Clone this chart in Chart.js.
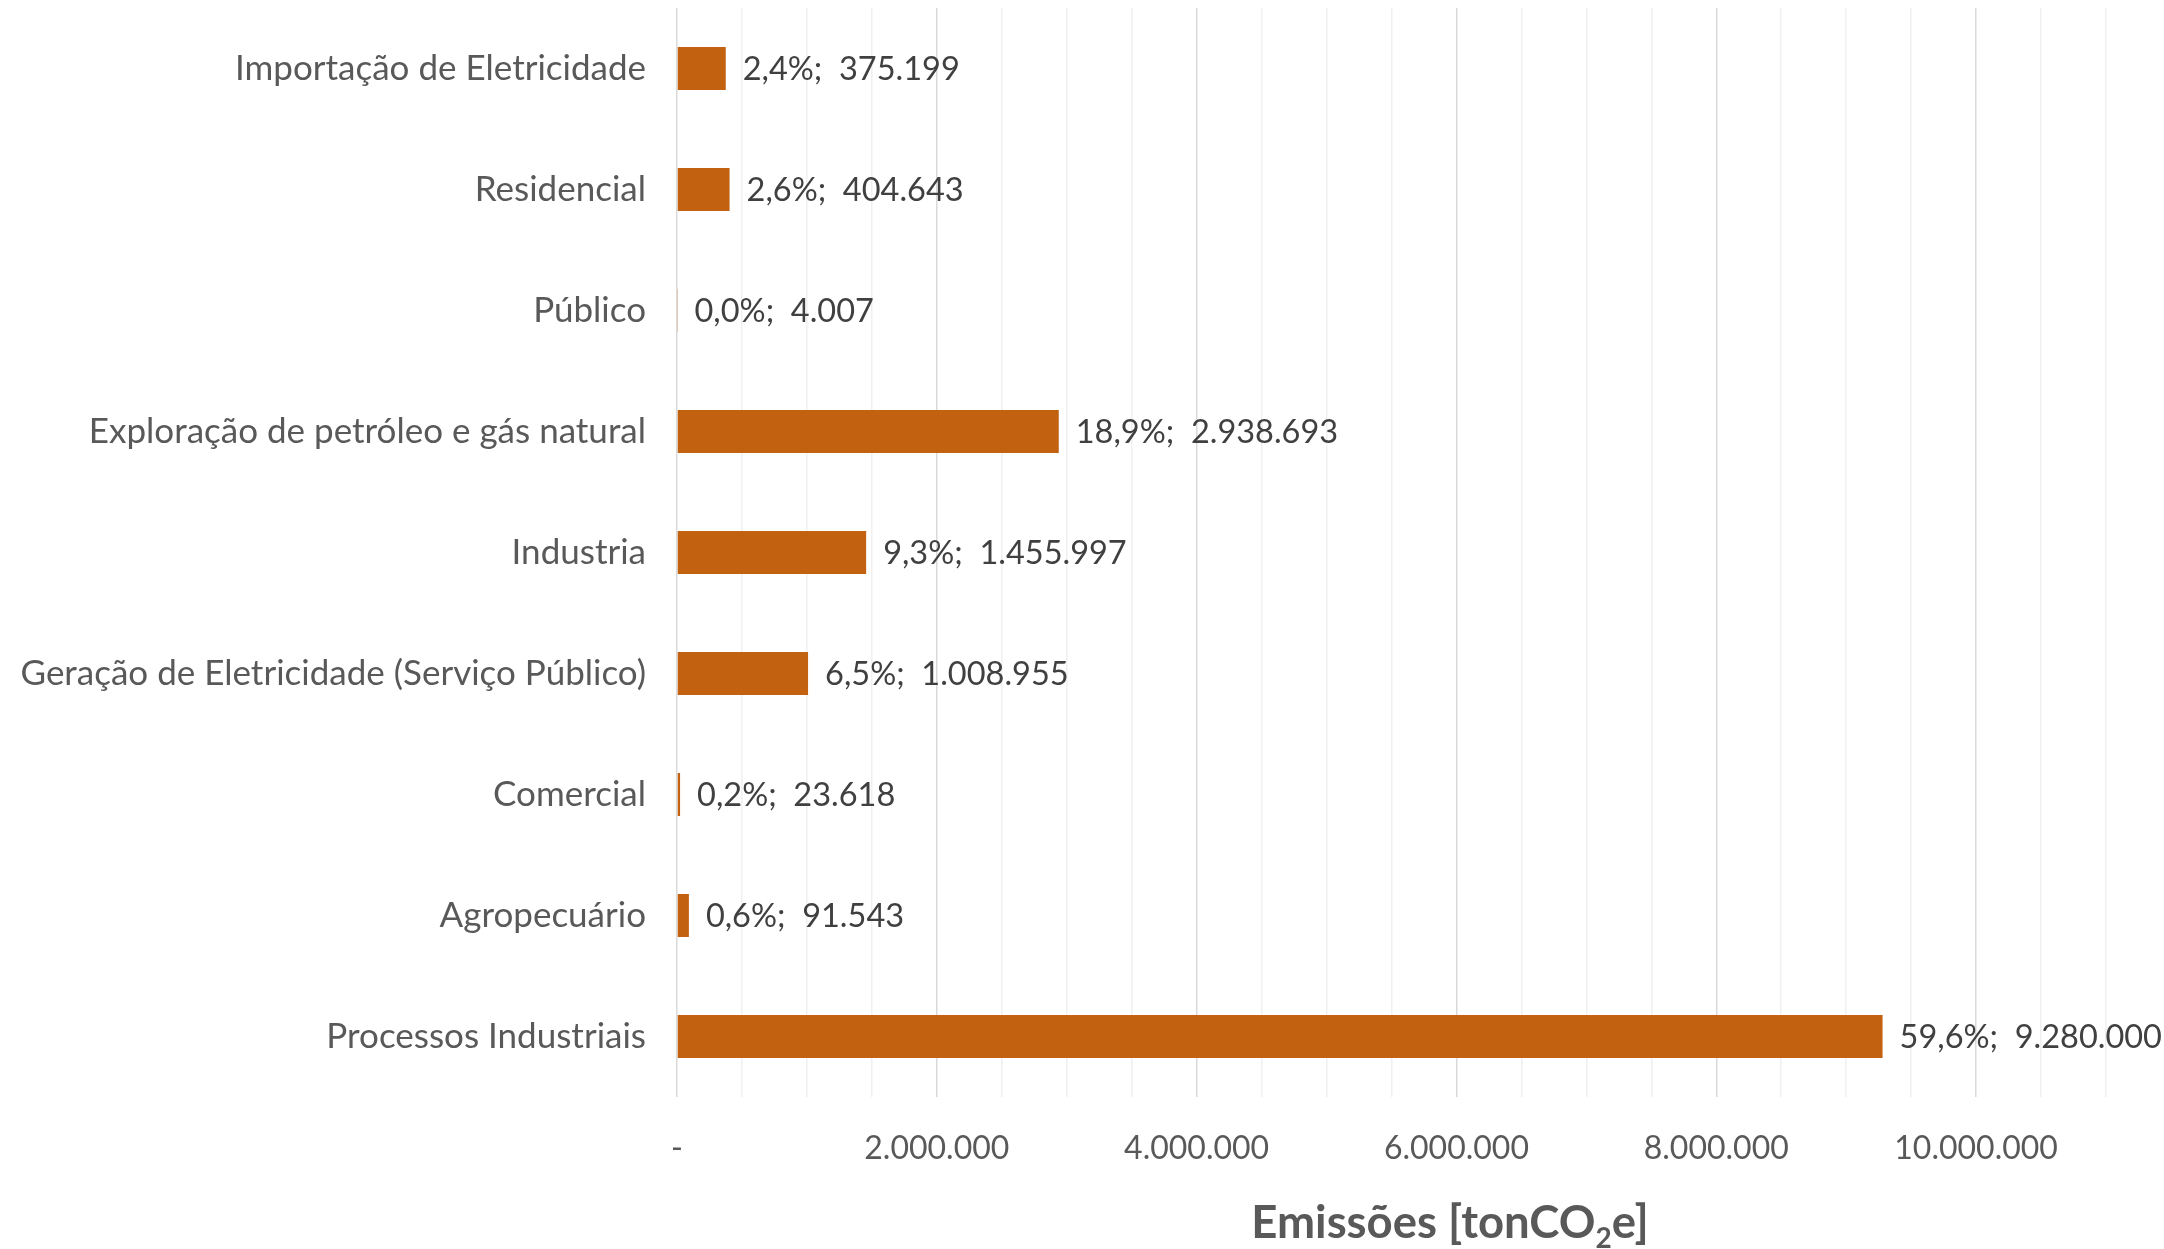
<!DOCTYPE html>
<html>
<head>
<meta charset="utf-8">
<script src="https://cdn.jsdelivr.net/npm/chart.js@4"></script>
<style>
  html, body { margin: 0; padding: 0; background: #ffffff; }
  #wrap { width: 2164px; height: 1249px; }
</style>
</head>
<body>
<div id="wrap"><canvas id="myChart" width="2164" height="1249"></canvas></div>
<script>
var sectors = [
    'Importação de Eletricidade',
    'Residencial',
    'Público',
    'Exploração de petróleo e gás natural',
    'Industria',
    'Geração de Eletricidade (Serviço Público)',
    'Comercial',
    'Agropecuário',
    'Processos Industriais'
];
var emissions = [375199, 404643, 4007, 2938693, 1455997, 1008955, 23618, 91543, 9280000];
var shares = ['2,4%', '2,6%', '0,0%', '18,9%', '9,3%', '6,5%', '0,2%', '0,6%', '59,6%'];
var tickLabels = { 0: '-', 2000000: '2.000.000', 4000000: '4.000.000', 6000000: '6.000.000', 8000000: '8.000.000', 10000000: '10.000.000' };

var FONT = 'Lato, "Open Sans", sans-serif';

function fmt(n) {
    return String(n).replace(/\B(?=(\d{3})+(?!\d))/g, '.');
}

// value labels to the right of each bar: "share;  value"
var barLabels = {
    id: 'barLabels',
    afterDatasetsDraw: function(chart) {
        var ctx = chart.ctx;
        var meta = chart.getDatasetMeta(0);
        ctx.save();
        ctx.font = '32.5px ' + FONT;
        ctx.fillStyle = '#404040';
        ctx.textAlign = 'left';
        ctx.textBaseline = 'middle';
        meta.data.forEach(function(bar, i) {
            ctx.fillText(shares[i] + ';  ' + fmt(emissions[i]), bar.x + 17, bar.y + 1);
        });
        ctx.restore();
    }
};

// axis title with a subscript 2
var axisTitle = {
    id: 'axisTitle',
    afterDraw: function(chart) {
        var ctx = chart.ctx;
        var a = chart.chartArea;
        var parts = [['Emissões [tonCO', 45.5, 0], ['2', 28, 10], ['e]', 45.5, 0]];
        ctx.save();
        ctx.fillStyle = '#595959';
        ctx.textBaseline = 'alphabetic';
        var total = 0;
        parts.forEach(function(p) {
            ctx.font = 'bold ' + p[1] + 'px ' + FONT;
            total += ctx.measureText(p[0]).width;
        });
        var x = a.left + (a.right - a.left) * 0.541 - total / 2;
        var y = chart.height - 11;
        parts.forEach(function(p) {
            ctx.font = 'bold ' + p[1] + 'px ' + FONT;
            ctx.fillText(p[0], x, y + p[2]);
            x += ctx.measureText(p[0]).width;
        });
        ctx.restore();
    }
};

var ctx = document.getElementById('myChart').getContext('2d');
var myChart = new Chart(ctx, {
    type: 'bar',
    data: {
        labels: sectors,
        datasets: [{
            label: 'Emissões',
            data: emissions,
            backgroundColor: '#c2610f',
            borderWidth: 0,
            barPercentage: 0.355,
            categoryPercentage: 1
        }]
    },
    options: {
        indexAxis: 'y',
        responsive: false,
        animation: false,
        layout: { padding: { left: 13, right: 58, top: 8, bottom: 0 } },
        plugins: {
            legend: { display: false },
            tooltip: { enabled: false }
        },
        scales: {
            x: {
                min: 0,
                max: 11000000,
                border: { display: false },
                grid: {
                    drawTicks: false,
                    lineWidth: 1.5,
                    color: function(c) {
                        return c.tick && c.tick.value % 2000000 === 0 ? '#d9d9d9' : '#f0f0f0';
                    }
                },
                ticks: {
                    stepSize: 500000,
                    autoSkip: false,
                    maxRotation: 0,
                    padding: 32,
                    color: '#595959',
                    font: { family: FONT, size: 32 },
                    callback: function(v) {
                        return tickLabels[v] !== undefined ? tickLabels[v] : '';
                    }
                },
                afterFit: function(scale) { scale.height = 152; }
            },
            y: {
                border: { display: false },
                grid: { display: false, drawTicks: false },
                ticks: {
                    padding: 31,
                    color: '#595959',
                    font: { family: FONT, size: 35 }
                },
                afterFit: function(scale) {
                    scale.width = 664;
                    scale.paddingTop = 0;
                    scale.paddingBottom = 0;
                }
            }
        }
    },
    plugins: [barLabels, axisTitle]
});
</script>
</body>
</html>
